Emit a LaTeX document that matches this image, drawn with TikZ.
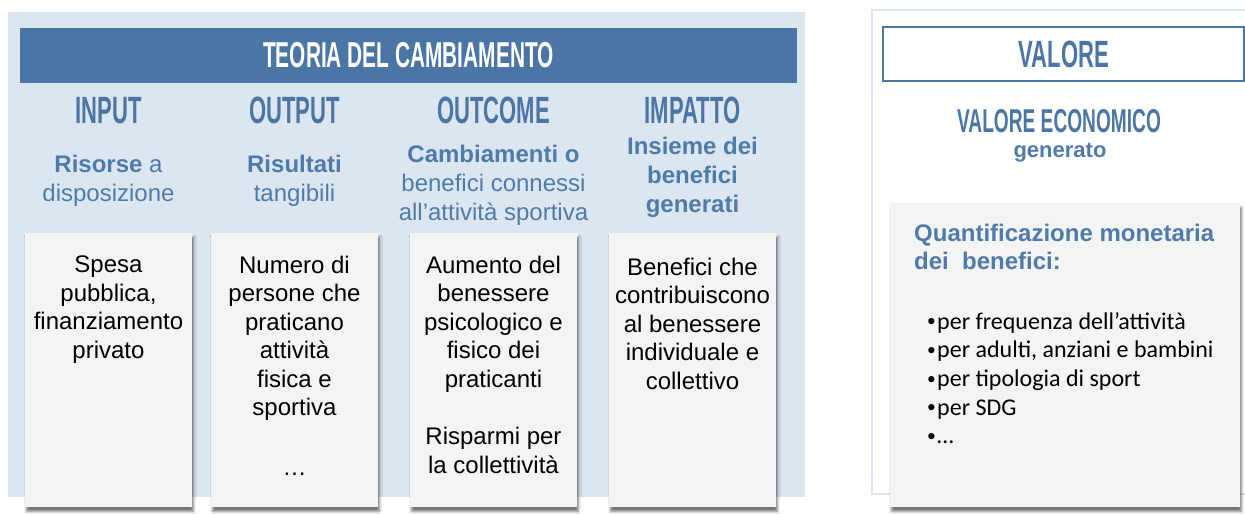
\documentclass[tikz,border=0pt]{standalone}
\usepackage{fontspec}
\setmainfont{Liberation Sans}
\newfontfamily\bebas{Liberation Sans}[FakeStretch=0.58]
\newfontfamily\calibri{Carlito}
\usetikzlibrary{positioning, shadows.blur}

\definecolor{steel}{HTML}{4A75A5}
\definecolor{subblue}{HTML}{4F7BAA}
\definecolor{panelblue}{HTML}{DCE6F1}
\definecolor{cardgrey}{HTML}{F4F4F4}

\newcommand{\voce}{\makebox[11pt][l]{\hspace{1pt}\raisebox{2.4pt}{\fontsize{17.5}{17.5}\selectfont •}}}

\begin{document}
\begin{tikzpicture}[
        x=1pt, y=-1pt,
        panel/.style={fill=panelblue, inner sep=0, minimum width=797pt, minimum height=485pt},
        banner/.style={fill=steel, text=white, inner sep=0, minimum width=777pt, minimum height=55pt, font=\bebas\bfseries\fontsize{36}{36}\selectfont},
        head/.style={text=steel, inner sep=0, font=\bebas\bfseries\fontsize{38}{38}\selectfont},
        sub/.style={text=subblue, inner sep=0, align=center, font=\fontsize{24}{29}\selectfont},
        card/.style={fill=cardgrey, inner sep=0, minimum width=167pt, minimum height=274pt,
            blur shadow={shadow xshift=1.5pt, shadow yshift=-4.5pt, shadow blur radius=2.5pt, shadow opacity=55}},
        cardtext/.style={inner sep=0, align=center, font=\fontsize{24}{28.5}\selectfont}
        ]

        \useasboundingbox (0,0) rectangle (1245,514);

        % Teoria del cambiamento
        \node[panel] (teoriaPanel) at (406.5,254.5) {};
        \node[banner] (teoria) at (408.5,55.5) {TEORIA DEL CAMBIAMENTO};

        % Column heads
        \node[head] (input) at (108.5,110.5) {INPUT};
        \node[head] (output) at (294.5,110.5) {OUTPUT};
        \node[head] (outcome) at (493.5,110.5) {OUTCOME};
        \node[head] (impatto) at (692.5,110.5) {IMPATTO};

        \node[sub, anchor=north] (inputSub) at (108.5,154.5) {\textbf{Risorse} a\\disposizione};
        \node[sub, anchor=north] (outputSub) at (294.5,154.5) {\textbf{Risultati}\\tangibili};
        \node[sub, anchor=north] (outcomeSub) at (493.5,144.5) {\textbf{Cambiamenti o}\\benefici connessi\\all’attività sportiva};
        \node[sub, anchor=north] (impattoSub) at (692.5,136.5) {\textbf{Insieme dei}\\\textbf{benefici}\\\textbf{generati}};

        % Cards
        \node[card] (inputCard) at (108.5,370) {};
        \node[card] (outputCard) at (294.5,370) {};
        \node[card] (outcomeCard) at (493.5,370) {};
        \node[card] (impattoCard) at (692.5,370) {};

        \node[cardtext, below=23pt of inputCard.north] (inputText) {Spesa\\pubblica,\\finanziamento\\privato};
        \node[cardtext, below=23pt of outputCard.north] (outputText) {Numero di\\persone che\\praticano\\attività\\fisica e\\sportiva\\[31pt]…};
        \node[cardtext, below=23pt of outcomeCard.north] (outcomeText) {Aumento del\\benessere\\psicologico e\\fisico dei\\praticanti\\[29pt]Risparmi per\\la collettività};
        \node[cardtext, below=25pt of impattoCard.north] (impattoText) {Benefici che\\contribuiscono\\al benessere\\individuale e\\collettivo};

        % Valore
        \draw[panelblue, line width=2.5pt] (872,10) rectangle (1260,494);
        \node[draw=steel, line width=2pt, fill=white, minimum width=361pt, minimum height=54pt] (valoreBox) at (1063.5,54) {};
        \node[head] (valore) at (1064,54) {VALORE};
        \node[head, font=\bebas\bfseries\fontsize{33}{33}\selectfont] (economico) at (1059,121.5) {VALORE ECONOMICO};
        \node[text=subblue, inner sep=0, anchor=base, font=\bfseries\fontsize{22}{22}\selectfont] (generato) at (1060,157) {generato};

        \node[card, minimum width=350pt, minimum height=304pt] (valoreCard) at (1065,355) {};
        \node[text=subblue, inner sep=0, anchor=north west, align=left, font=\bfseries\fontsize{24}{28}\selectfont]
            (quant) at (914,224) {Quantificazione monetaria\\dei\ \ benefici:};
        \node[inner sep=0, anchor=north west, align=left, font=\calibri\fontsize{24}{28.7}\selectfont]
            (voci) at (926,312) {\voce per frequenza dell’attività\\\voce per adulti, anziani e bambini\\\voce per tipologia di sport\\\voce per SDG\\\voce …};

    \end{tikzpicture}
\end{document}
